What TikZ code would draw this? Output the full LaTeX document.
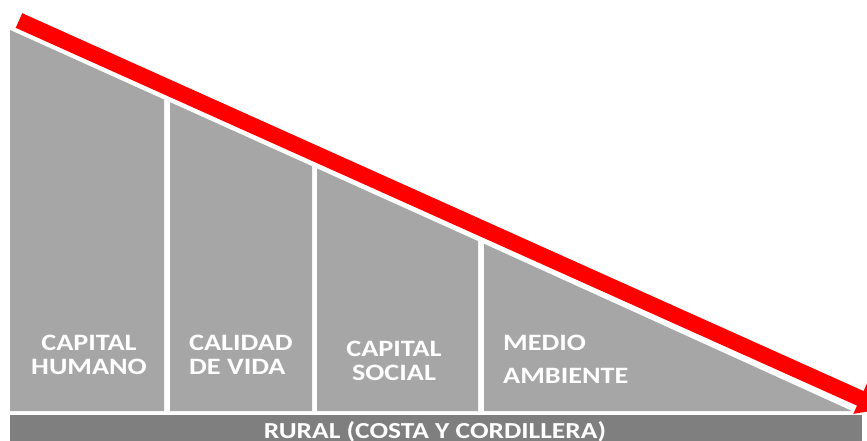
\documentclass[tikz,border=0pt]{standalone}
\usepackage{fontspec}
\setmainfont{Carlito}[FakeStretch=1.2]
\usetikzlibrary{arrows.meta}
\definecolor{colgray}{HTML}{A6A6A6}
\definecolor{bargray}{HTML}{7F7F7F}
\tikzset{
  column/.style={fill=colgray, draw=none},
  label/.style={text=white, font=\bfseries\fontsize{23.5}{24}\selectfont, inner sep=0pt, anchor=base},
}
\begin{document}
\begin{tikzpicture}[x=1pt, y=-1pt]
                \useasboundingbox (0,0) rectangle (867,441);

                \fill[column] (10,411) -- (10,30) -- (164,99.5) -- (164,411) -- cycle;
                \fill[column] (170,411) -- (170,102.2) -- (312,166.2) -- (312,411) -- cycle;
                \fill[column] (317,411) -- (317,168.5) -- (478,241.1) -- (478,411) -- cycle;
                \fill[column] (484,411) -- (484,243.8) -- (852,411) -- cycle;

                \node[fill=bargray, minimum width=852pt, minimum height=26pt, inner sep=0pt, anchor=north west] (bar) at (10,415) {};
                \node[label, font=\bfseries\fontsize{22.9}{24}\selectfont] (rural) at (435,438) {RURAL (COSTA Y CORDILLERA)};

                \node[label, align=center] (humano) at (89,374) {CAPITAL\\HUMANO};
                \node[label, align=left, anchor=base west] (vida) at (189,374) {CALIDAD\\DE VIDA};
                \node[label, align=center] (social) at (394,380) {CAPITAL\\SOCIAL};
                \node[label, align=left, anchor=base west, font=\bfseries\fontsize{23.5}{33}\selectfont] (ambiente) at (503,383) {MEDIO\\AMBIENTE};

                \coordinate (start) at (19,20.5);
                \coordinate (tip) at (884,409);
                \draw[red, line width=16pt, -{Triangle[length=26pt, width=32pt]}] (start) -- (tip);
            \end{tikzpicture}
\end{document}
